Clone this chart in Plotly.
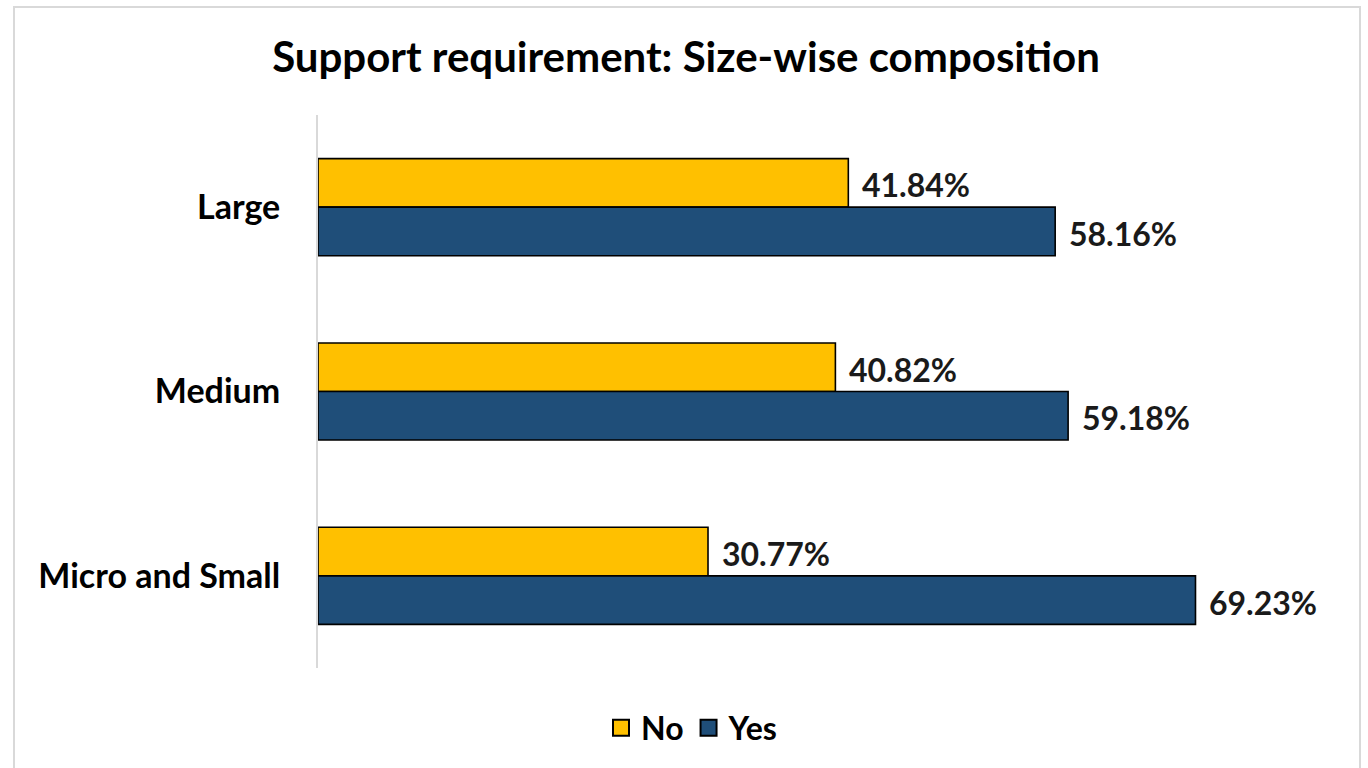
import plotly.graph_objects as go

# Company size bands, listed top to bottom
sizes = ["Large", "Medium", "Micro and Small"]
no_share = [41.84, 40.82, 30.77]
yes_share = [58.16, 59.18, 69.23]

series = [
    ("No", no_share, "#FFC000"),
    ("Yes", yes_share, "#1F4E79"),
]

FONT = "Lato"

fig = go.Figure()
for name, vals, color in series:
    fig.add_trace(go.Bar(
        name=name,
        y=sizes,
        x=vals,
        orientation="h",
        marker=dict(color=color, line=dict(color="#000000", width=1.6)),
        hoverinfo="skip",
        showlegend=False,
    ))

# Legend entries drawn as larger outlined squares
for name, vals, color in series:
    fig.add_trace(go.Scatter(
        name=name, x=[None], y=[None], mode="markers",
        marker=dict(symbol="square", size=16, color=color,
                    line=dict(color="#000000", width=2)),
        hoverinfo="skip",
    ))

# Value labels just past the end of each bar
band_px = 553 / 3
bar_px = band_px * (1 - 0.473) / 2
for i, (name, vals, color) in enumerate(series):
    shift = bar_px / 2 if i == 0 else -bar_px / 2
    for cat, v in zip(sizes, vals):
        fig.add_annotation(
            x=v, y=cat, xref="x", yref="y",
            text=f"{v:.2f}%",
            showarrow=False,
            xanchor="left", yanchor="middle",
            xshift=12, yshift=shift - 2,
            font=dict(family=FONT, size=32, color="#1a1a1a", weight="bold"),
        )

# Light frame around the chart
L, T = 318, 115
W, H = 1014, 553
def px_x(p):
    return (p - L) / W
def px_y(p):
    return (T + H - p) / H

fig.add_shape(
    type="rect", xref="paper", yref="paper",
    x0=px_x(14), x1=px_x(1360), y0=px_y(778), y1=px_y(7),
    line=dict(color="#D9D9D9", width=2), fillcolor="rgba(0,0,0,0)",
    layer="below",
)

fig.update_layout(
    width=1368, height=768,
    margin=dict(l=L, r=1368 - L - W, t=T, b=768 - T - H),
    paper_bgcolor="white", plot_bgcolor="white",
    barmode="group", bargap=0.473, bargroupgap=0,
    title=dict(
        text="Support requirement: Size-wise composition",
        x=686 / 1368, xanchor="center",
        y=1 - 57 / 768, yanchor="middle",
        font=dict(family=FONT, size=42, color="#000000", weight="bold"),
    ),
    xaxis=dict(range=[0, 80], visible=False, fixedrange=True),
    yaxis=dict(
        categoryorder="array", categoryarray=sizes, autorange="reversed",
        showline=True, linecolor="#D9D9D9", linewidth=2,
        showgrid=False, zeroline=False, ticks="",
        ticklabelstandoff=29,
        tickfont=dict(family=FONT, size=34, color="#000000", weight="bold"),
    ),
    showlegend=True,
    legend=dict(
        orientation="h", x=px_x(692), xanchor="center",
        y=px_y(728), yanchor="middle",
        font=dict(family=FONT, size=32, color="#000000", weight="bold"),
        itemwidth=30, itemsizing="trace", traceorder="normal",
    ),
)

fig.write_html("out.html")
